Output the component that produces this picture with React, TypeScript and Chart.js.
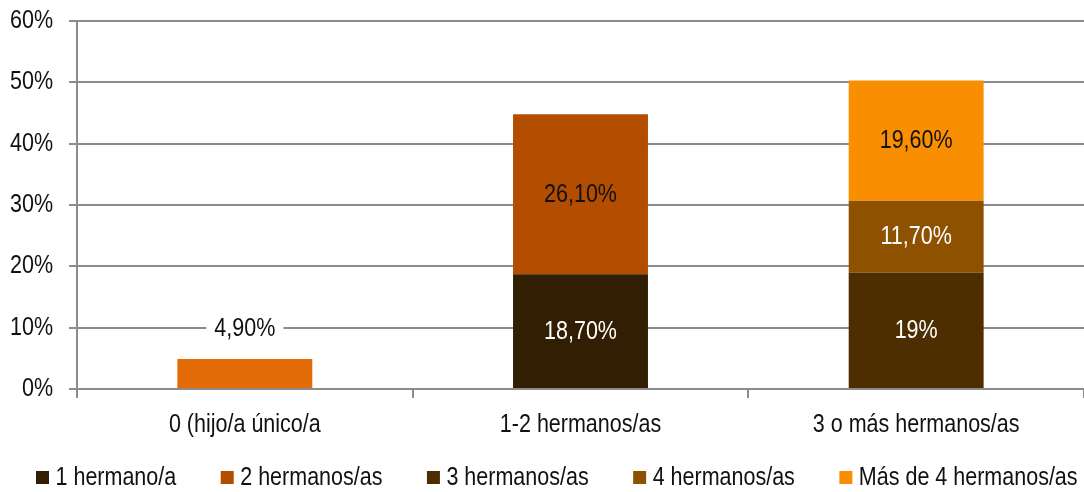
import React, { useEffect, useRef } from "react";
import { Chart, registerables } from "chart.js";

Chart.register(...registerables);

const categories = ["0 (hijo/a único/a", "1-2 hermanos/as", "3 o más hermanos/as"];
const seriesNames = ["1 hermano/a", "2 hermanos/as", "3 hermanos/as", "4 hermanos/as", "Más de 4 hermanos/as"];
const seriesColors = ["#321E02", "#B34E00", "#4E2D00", "#8E5100", "#F98F00"];
const onlyChild = [4.9, null, null];
const oneSibling = [null, 18.7, null];
const twoSiblings = [null, 26.1, null];
const threeSiblings = [null, null, 19];
const fourSiblings = [null, null, 11.7];
const moreThanFour = [null, null, 19.6];
const yTicks = [0, 10, 20, 30, 40, 50, 60];

const FONT = "'Liberation Sans', Arial, sans-serif";
const FS = 25;
const SX = 0.86; // horizontal condensing to mimic a narrow face

const fmt = (v: number) => {
  if (Number.isInteger(v)) return v + "%";
  return v.toFixed(2).replace(".", ",") + "%";
};

function condense(ctx: any) {
  const fill = ctx.fillText.bind(ctx);
  const measure = ctx.measureText.bind(ctx);
  ctx.fillText = (t: string, x: number, y: number, mw?: number) => {
    ctx.save();
    ctx.translate(x, y);
    ctx.scale(SX, 1);
    if (mw === undefined || mw === null) fill(t, 0, 0);
    else fill(t, 0, 0, mw / SX);
    ctx.restore();
  };
  ctx.measureText = (t: string) => {
    const m = measure(t);
    return {
      width: m.width * SX,
      actualBoundingBoxAscent: m.actualBoundingBoxAscent,
      actualBoundingBoxDescent: m.actualBoundingBoxDescent,
      actualBoundingBoxLeft: m.actualBoundingBoxLeft * SX,
      actualBoundingBoxRight: m.actualBoundingBoxRight * SX,
      fontBoundingBoxAscent: m.fontBoundingBoxAscent,
      fontBoundingBoxDescent: m.fontBoundingBoxDescent,
    };
  };
}

const labelPlugin = {
  id: "barLabels",
  afterDatasetsDraw(chart: any) {
    const ctx = chart.ctx;
    ctx.save();
    ctx.font = `${FS}px ${FONT}`;
    ctx.textAlign = "center";
    ctx.textBaseline = "middle";
    chart.data.datasets.forEach((ds: any, di: number) => {
      const meta = chart.getDatasetMeta(di);
      meta.data.forEach((bar: any, i: number) => {
        const v = ds.data[i];
        if (v == null) return;
        const text = fmt(v);
        if (ds.labelOutside) {
          const y = bar.y - 31;
          const w = ctx.measureText(text).width;
          ctx.fillStyle = "#ffffff";
          ctx.fillRect(bar.x - w / 2 - 8, y - 11, w + 16, 22);
          ctx.fillStyle = "#111111";
          ctx.fillText(text, bar.x, y + 1);
        } else {
          ctx.fillStyle = ds.labelColor;
          ctx.fillText(text, bar.x, (bar.y + bar.base) / 2 + 1);
        }
      });
    });
    ctx.restore();
  },
};

const legendPlugin = {
  id: "customLegend",
  afterDraw(chart: any) {
    const ctx = chart.ctx;
    ctx.save();
    ctx.font = `${FS}px ${FONT}`;
    ctx.textAlign = "left";
    ctx.textBaseline = "middle";
    const y = 477.5;
    let x = 36;
    seriesNames.forEach((name, i) => {
      ctx.fillStyle = seriesColors[i];
      ctx.fillRect(x, y - 6.5, 13, 13);
      ctx.fillStyle = "#111111";
      ctx.fillText(name, x + 19.5, y + 1);
      x += 19.5 + ctx.measureText(name).width + 44.5;
    });
    ctx.restore();
  },
};

export default function App() {
  const ref = useRef<HTMLCanvasElement>(null);
  useEffect(() => {
    document.body.style.margin = "0";
    const canvas = ref.current!;
    condense(canvas.getContext("2d"));
    const chart = new Chart(canvas, {
      type: "bar",
      data: {
        labels: categories,
        datasets: [
          { label: "0", data: onlyChild, backgroundColor: "#E36C09", labelOutside: true } as any,
          { label: seriesNames[0], data: oneSibling, backgroundColor: seriesColors[0], labelColor: "#ffffff" } as any,
          { label: seriesNames[1], data: twoSiblings, backgroundColor: seriesColors[1], labelColor: "#111111" } as any,
          { label: seriesNames[2], data: threeSiblings, backgroundColor: seriesColors[2], labelColor: "#ffffff" } as any,
          { label: seriesNames[3], data: fourSiblings, backgroundColor: seriesColors[3], labelColor: "#ffffff" } as any,
          { label: seriesNames[4], data: moreThanFour, backgroundColor: seriesColors[4], labelColor: "#111111" } as any,
        ],
      },
      options: {
        animation: false,
        responsive: false,
        maintainAspectRatio: false,
        layout: { padding: { top: 21, right: -4, left: 0, bottom: 50 } },
        datasets: { bar: { categoryPercentage: 0.402, barPercentage: 1, skipNull: true } as any },
        scales: {
          x: {
            stacked: true,
            afterFit: (axis: any) => {
              axis.height = 53;
              axis.paddingLeft = 0;
              axis.paddingRight = 0;
            },
            grid: { display: true, drawOnChartArea: false, offset: true, color: "#8c8c8c", lineWidth: 2, tickLength: 9 },
            border: { color: "#8c8c8c", width: 2 },
            ticks: { color: "#111111", font: { family: FONT, size: FS }, padding: 12, maxRotation: 0 },
          },
          y: {
            stacked: true,
            min: 0,
            max: 60,
            afterBuildTicks: (axis: any) => {
              axis.ticks = yTicks.map((v) => ({ value: v }));
            },
            afterFit: (axis: any) => {
              axis.width = 77;
              axis.paddingTop = 0;
              axis.paddingBottom = 0;
            },
            grid: { color: "#8c8c8c", lineWidth: 2, tickLength: 8 },
            border: { color: "#8c8c8c", width: 2 },
            ticks: {
              color: "#111111",
              font: { family: FONT, size: FS },
              padding: 16,
              callback: (v: any) => v + "%",
            },
          },
        },
        plugins: {
          legend: { display: false },
          tooltip: { enabled: false },
        },
      },
      plugins: [labelPlugin, legendPlugin],
    });
    return () => chart.destroy();
  }, []);
  return (
    <div style={{ width: 1084, height: 492 }}>
      <canvas ref={ref} width={1084} height={492} style={{ display: "block" }} />
    </div>
  );
}
